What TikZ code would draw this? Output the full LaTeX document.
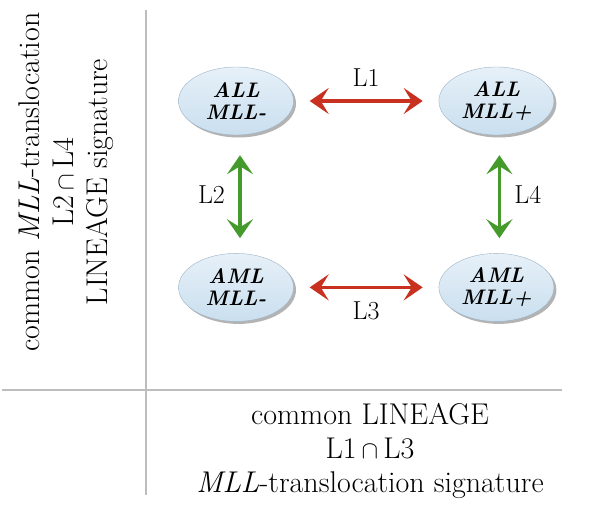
\documentclass[tikz,border=0pt]{standalone}
\usepackage{fontspec}
\usepackage{tikz}
\usetikzlibrary{arrows.meta, positioning, shapes.geometric, shadows}
\definecolor{ellTop}{HTML}{E6F0F8}
\definecolor{ellBot}{HTML}{CADFEF}
\definecolor{ellLine}{HTML}{9DB3C6}
\definecolor{lnkRed}{HTML}{C8301F}
\definecolor{lnkGreen}{HTML}{459A2C}
\definecolor{axGrey}{HTML}{BDBDBD}

\begin{document}
\begin{tikzpicture}[
  x=1pt, y=-1pt,
  grp/.style={ellipse, draw=ellLine, line width=0.4pt, top color=ellTop, bottom color=ellBot,
              minimum width=115pt, minimum height=68pt, inner sep=0pt, align=center,
              font=\fontsize{21}{22}\selectfont\bfseries\itshape,
              drop shadow={shadow xshift=2.5pt, shadow yshift=-2.5pt, opacity=0.6}},
  lnk/.style={{Stealth[length=19pt, width=26pt, inset=8pt]}-{Stealth[length=19pt, width=26pt, inset=8pt]},
              line width=3.5pt},
  redlnk/.style={lnk, lnkRed, shorten <=16pt, shorten >=16pt},
  greenlnk/.style={lnk, lnkGreen, shorten <=20pt, shorten >=15pt},
  lab/.style={font=\fontsize{26}{28}\selectfont},
  axtxt/.style={align=center, font=\fontsize{30}{34}\selectfont},
  axis/.style={axGrey, line width=1.2pt}
]
\useasboundingbox (0,0) rectangle (600,506);

% the four groups
\node[grp] (allneg) at (236,101) {ALL\\MLL-};
\node[grp, right=145pt of allneg] (allpos) {ALL\\MLL+};
\node[grp, below=118pt of allneg] (amlneg) {AML\\MLL-};
\node[grp, right=145pt of amlneg] (amlpos) {AML\\MLL+};

% comparisons
\draw[redlnk] (allneg) -- (allpos) node[midway, above=9pt, lab, text=black]{L1};
\draw[redlnk] (amlneg) -- (amlpos) node[midway, below=9pt, lab, text=black]{L3};
\draw[greenlnk] ([xshift=4pt]allneg.south) -- ([xshift=4pt]amlneg.north)
  node[midway, left=10pt, lab, text=black]{L2};
\draw[greenlnk] ([xshift=3pt]allpos.south) -- ([xshift=3pt]amlpos.north)
  node[midway, right=10pt, lab, text=black]{L4};

% axes
\coordinate (vtop) at (146,10);
\coordinate (vbot) at (146,495);
\coordinate (hleft) at (2,390);
\coordinate (hright) at (562,390);
\draw[axis] (vtop) -- (vbot);
\draw[axis] (hleft) -- (hright);

\node[axtxt, rotate=90] (sidetxt) at (66,182) {common \textit{MLL}-translocation\\L2\,$\cap$\,L4\\LINEAGE signature};
\node[axtxt] (bottxt) at (370,451) {common LINEAGE\\L1\,$\cap$\,L3\\\textit{MLL}-translocation signature};
\end{tikzpicture}
\end{document}
